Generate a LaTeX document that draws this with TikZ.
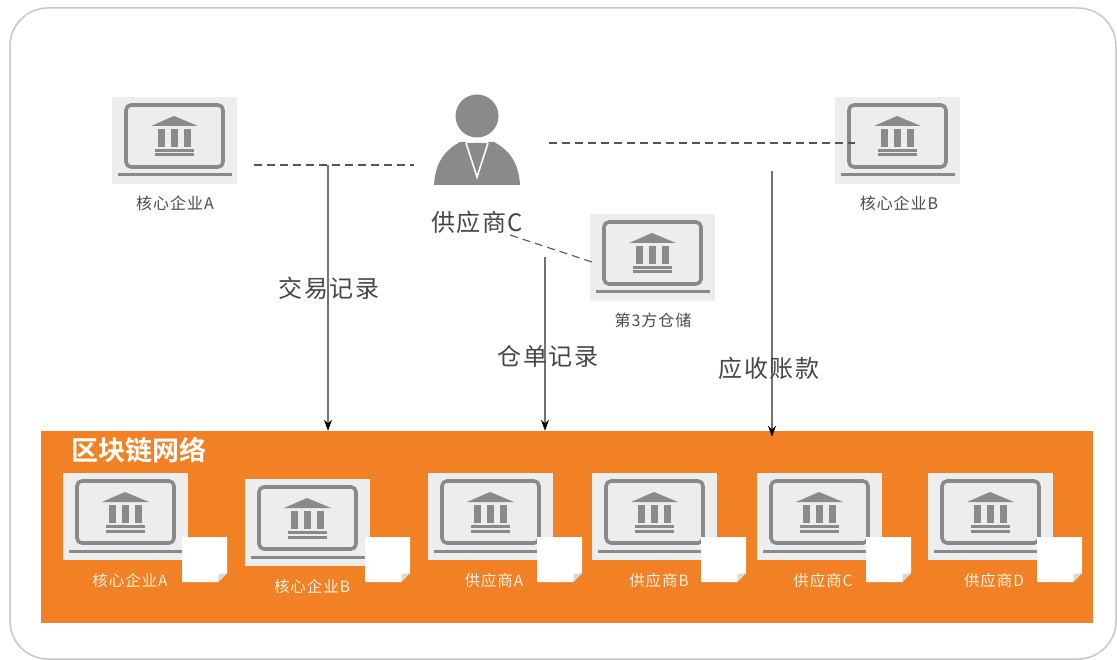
\documentclass[tikz,border=0pt]{standalone}
\usepackage{fontspec}
\setmainfont{Liberation Sans}
\newfontfamily\cjk[LetterSpace=6]{Noto Sans CJK SC}
\newfontfamily\cjkb[BoldFont={Noto Sans CJK SC Bold}]{Noto Sans CJK SC}
\usetikzlibrary{arrows.meta}
\definecolor{icongray}{HTML}{8A8A8A}
\definecolor{panelgray}{HTML}{EDEDED}
\definecolor{netorange}{HTML}{F28126}
\definecolor{linkgray}{HTML}{555555}
\tikzset{
  x=1pt,y=-1pt,
  panelbox/.style={fill=panelgray,draw=none},
  iconfill/.style={fill=icongray,draw=none},
  labeldark/.style={text=black!70,font=\cjk\fontsize{16}{18}\selectfont,inner sep=0pt},
  labellight/.style={text=white!88!orange,font=\cjk\fontsize{15.5}{18}\selectfont,inner sep=0pt},
  labelbig/.style={text=black!72,font=\cjk\fontsize{24}{28}\selectfont,inner sep=0pt},
  dashlink/.style={draw=linkgray,line width=1.1pt,dash pattern=on 8pt off 5pt},
  arrowlink/.style={draw=black!55,line width=1.1pt,-{Stealth[length=11pt,width=8pt,color=black]}},
  laptop/.pic={
    \fill[panelbox] (0,0) rectangle (125,87);
    \draw[icongray,line width=3.6pt,rounded corners=5pt] (14,8) rectangle (111,70);
    \draw[icongray,line width=3pt] (6,78) -- (120,78);
    \fill[iconfill] (39,29) -- (62,19) -- (86,29) -- cycle;
    \foreach \cx in {49,62,75}{\fill[iconfill] (\cx-3.5,32) rectangle (\cx+3.5,50);}
    \fill[iconfill] (43,52) rectangle (82,55);
    \fill[iconfill] (43,56.5) rectangle (82,59.5);
  },
  notepage/.pic={
    \fill[white] (0,0) -- (45,0) -- (45,36) -- (36,45) -- (0,45) -- cycle;
    \fill[black!15] (45,36) -- (37,37) -- (36,45) -- cycle;
  }
}
\begin{document}
\begin{tikzpicture}
\useasboundingbox (0,0) rectangle (1117,660);
\fill[white] (0,0) rectangle (1117,660);
\draw[black!22,line width=1.5pt,rounded corners=38pt] (10,8) -- (1116,8) -- (1116,659) -- (10,659) -- cycle;

% top panels
\pic at (112,97) {laptop};
\pic at (835,97) {laptop};
\pic at (590,214) {laptop};
\node[labeldark] (labA) at (175,203) {核心企业A};
\node[labeldark] (labB) at (899,203) {核心企业B};
\node[labeldark] (labW) at (653,320) {第3方仓储};

% person
\fill[icongray] (477,116) circle[radius=21.5];
\fill[icongray] (434,185) .. controls (435,165) and (443,151) .. (460,142) -- (494,142) .. controls (511,151) and (519,165) .. (520,185) -- cycle;
\draw[white,line width=1.6pt] (466,143) -- (477,177) -- (488,143);
\fill[white] (466,141) -- (488,141) -- (488,143) -- (466,143) -- cycle;
\fill[icongray] (473,143) -- (481,143) -- (484,151) -- (477,165) -- (470,151) -- cycle;
\node[labelbig] (labC) at (477,222) {供应商C};

% connector ends
\node[inner sep=0pt,minimum size=0pt] (aR) at (254,165) {};
\node[inner sep=0pt,minimum size=0pt] (pL) at (414,165) {};
\node[inner sep=0pt,minimum size=0pt] (pR) at (549,143) {};
\node[inner sep=0pt,minimum size=0pt] (bL) at (855,143) {};
\node[inner sep=0pt,minimum size=0pt] (cD) at (510,235) {};
\node[inner sep=0pt,minimum size=0pt] (wL) at (592,262) {};
\node[inner sep=0pt,minimum size=0pt] (t1) at (328,165) {};
\node[inner sep=0pt,minimum size=0pt] (t2) at (545,257) {};
\node[inner sep=0pt,minimum size=0pt] (t3) at (772,171) {};
\node[inner sep=0pt,minimum size=0pt] (n1) at (328,431) {};
\node[inner sep=0pt,minimum size=0pt] (n2) at (545,431) {};
\node[inner sep=0pt,minimum size=0pt] (n3) at (772,437) {};

% network
\node[fill=netorange,draw=none,inner sep=0pt,minimum width=1052pt,minimum height=192pt] (net) at (567,527) {};
\node[text=white,font=\cjkb\bfseries\fontsize{27}{30}\selectfont,inner sep=0pt] (title) at (139,450) {区块链网络};

\foreach \px/\py/\nx in {63/473/182,245/479/365,428/473/537,592/473/701,757/473/866,928/473/1037}{
  \begin{scope}[shift={(\px,\py)},xscale=1.048,yscale=1.045]
    \pic at (0,0) {laptop};
  \end{scope}
  \pic at (\nx,537) {notepage};
}
\node[labellight] (n1a) at (130,581) {核心企业A};
\node[labellight] (n1b) at (312,587) {核心企业B};
\node[labellight] (n1c) at (494,581) {供应商A};
\node[labellight] (n1d) at (659,581) {供应商B};
\node[labellight] (n1e) at (823,581) {供应商C};
\node[labellight] (n1f) at (994,581) {供应商D};

% connectors
\draw[dashlink] (aR) -- (pL);
\draw[dashlink] (pR) -- (bL);
\draw[dashlink] (cD) -- (wL);
\draw[arrowlink] (t1) -- (n1);
\draw[arrowlink] (t2) -- (n2);
\draw[arrowlink] (t3) -- (n3);

\node[labelbig] (rec1) at (329,288) {交易记录};
\node[labelbig] (rec2) at (548,356) {仓单记录};
\node[labelbig] (rec3) at (769,368) {应收账款};
\end{tikzpicture}
\end{document}
